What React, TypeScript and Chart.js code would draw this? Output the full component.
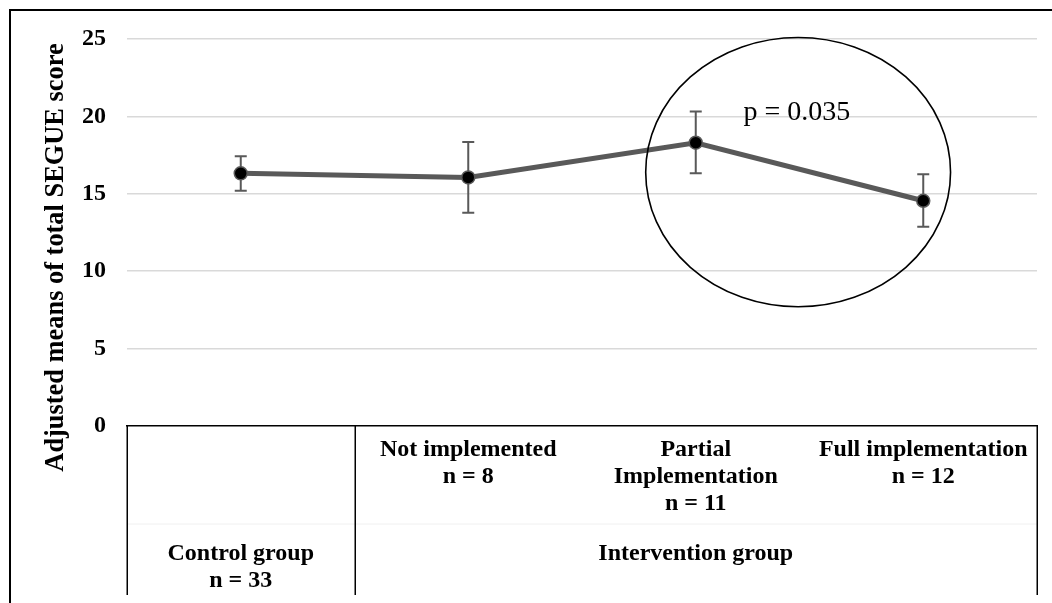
import React, { useEffect, useRef } from "react";
import { Chart, registerables } from "chart.js";

Chart.register(...registerables);

// ---- data ----
const categories = ["Control group", "Not implemented", "Partial Implementation", "Full implementation"];
const tickLabels: string[][] = [
  [""],
  ["Not implemented", "n = 8"],
  ["Partial", "Implementation", "n = 11"],
  ["Full implementation", "n = 12"],
];
const groupNames: string[][] = [["Control group", "n = 33"], ["Intervention group"]];
const groupStart = [0, 1];
const groupEnd = [0, 3];
const means = [16.32, 16.06, 18.3, 14.55];
const errLow = [15.2, 13.77, 16.32, 12.87];
const errHigh = [17.43, 18.35, 20.31, 16.26];
const yMin = 0;
const yMax = 25;
const yStep = 5;
const yTitle = "Adjusted means of total SEGUE score";
const annotationText = "p = 0.035";
const annotationAt = [2.21, 19.77]; // [category index, value] of text start
const ellipseX = [1.78, 3.12]; // category-index extent
const ellipseY = [7.7, 25.1]; // value extent

const SERIF = "'Liberation Serif', 'Times New Roman', serif";
const GRAY = "#595959";

const decorPlugin = {
  id: "decor",
  beforeDraw(chart: any) {
    const { ctx, width, height } = chart;
    ctx.save();
    ctx.fillStyle = "#ffffff";
    ctx.fillRect(0, 0, width, height);
    ctx.restore();
  },
  beforeDatasetsDraw(chart: any) {
    const { ctx } = chart;
    const xs = chart.scales.x;
    const ys = chart.scales.y;
    ctx.save();
    ctx.strokeStyle = GRAY;
    ctx.lineWidth = 2;
    for (let i = 0; i < means.length; i++) {
      const x = xs.getPixelForValue(i);
      const yl = ys.getPixelForValue(errLow[i]);
      const yh = ys.getPixelForValue(errHigh[i]);
      ctx.beginPath();
      ctx.moveTo(x, yl);
      ctx.lineTo(x, yh);
      ctx.moveTo(x - 6, yl);
      ctx.lineTo(x + 6, yl);
      ctx.moveTo(x - 6, yh);
      ctx.lineTo(x + 6, yh);
      ctx.stroke();
    }
    ctx.restore();
  },
  afterDraw(chart: any) {
    const { ctx, chartArea, width, height } = chart;
    const xs = chart.scales.x;
    const ys = chart.scales.y;
    ctx.save();
    // outer frame (top & left)
    ctx.strokeStyle = "#000";
    ctx.lineWidth = 2;
    ctx.beginPath();
    ctx.moveTo(width, 10);
    ctx.lineTo(10, 10);
    ctx.lineTo(10, height);
    ctx.stroke();

    // y-axis title
    ctx.save();
    ctx.translate(62.5, 257.5);
    ctx.rotate(-Math.PI / 2);
    ctx.fillStyle = "#000";
    ctx.font = `bold 26.4px ${SERIF}`;
    ctx.textAlign = "center";
    ctx.textBaseline = "alphabetic";
    ctx.fillText(yTitle, 0, 0);
    ctx.restore();

    // faint row separator in table
    ctx.strokeStyle = "#f0f0f0";
    ctx.lineWidth = 1;
    ctx.beginPath();
    ctx.moveTo(chartArea.left, chartArea.bottom + 98);
    ctx.lineTo(chartArea.right, chartArea.bottom + 98);
    ctx.stroke();

    // group separators
    ctx.strokeStyle = "#000";
    ctx.lineWidth = 1.5;
    const bounds = new Set<number>();
    for (let g = 0; g < groupNames.length; g++) {
      bounds.add(groupStart[g] - 0.5);
      bounds.add(groupEnd[g] + 0.5);
    }
    bounds.forEach((b) => {
      const x = Math.round(xs.getPixelForValue(b)) + 0.25;
      ctx.beginPath();
      ctx.moveTo(x, chartArea.bottom);
      ctx.lineTo(x, chartArea.bottom + 169);
      ctx.stroke();
    });

    // group labels
    ctx.fillStyle = "#000";
    ctx.font = `bold 24px ${SERIF}`;
    ctx.textAlign = "center";
    ctx.textBaseline = "alphabetic";
    for (let g = 0; g < groupNames.length; g++) {
      const cx = (xs.getPixelForValue(groupStart[g] - 0.5) + xs.getPixelForValue(groupEnd[g] + 0.5)) / 2;
      groupNames[g].forEach((line, k) => {
        ctx.fillText(line, cx, chartArea.bottom + 134 + k * 27);
      });
    }

    // ellipse annotation
    const ex0 = xs.getPixelForValue(ellipseX[0]);
    const ex1 = xs.getPixelForValue(ellipseX[1]);
    const ey0 = ys.getPixelForValue(ellipseY[0]);
    const ey1 = ys.getPixelForValue(ellipseY[1]);
    ctx.strokeStyle = "#000";
    ctx.lineWidth = 1.6;
    ctx.beginPath();
    ctx.ellipse((ex0 + ex1) / 2, (ey0 + ey1) / 2, Math.abs(ex1 - ex0) / 2, Math.abs(ey1 - ey0) / 2, 0, 0, Math.PI * 2);
    ctx.stroke();

    // p-value text
    ctx.font = `28px ${SERIF}`;
    ctx.textAlign = "left";
    ctx.textBaseline = "alphabetic";
    ctx.fillText(annotationText, xs.getPixelForValue(annotationAt[0]), ys.getPixelForValue(annotationAt[1]));
    ctx.restore();
  },
};

export default function App() {
  const ref = useRef<HTMLCanvasElement | null>(null);
  useEffect(() => {
    if (!ref.current) return;
    const chart = new Chart(ref.current, {
      type: "line",
      data: {
        labels: tickLabels as any,
        datasets: [
          {
            label: "Adjusted mean",
            data: means,
            borderColor: GRAY,
            borderWidth: 5,
            pointRadius: 6.5,
            pointBackgroundColor: "#000",
            pointBorderColor: GRAY,
            pointBorderWidth: 1.5,
            tension: 0,
            fill: false,
          },
        ],
      },
      options: {
        animation: false,
        responsive: false,
        maintainAspectRatio: false,
        layout: { padding: { top: 39, right: 15, left: 0, bottom: 0 } },
        plugins: {
          legend: { display: false },
          tooltip: { enabled: false },
          title: { display: false },
        },
        scales: {
          x: {
            type: "category",
            offset: true,
            grid: { display: false, drawTicks: false },
            border: { display: true, color: "#000", width: 1.5 },
            ticks: {
              color: "#000",
              font: { family: SERIF, size: 24, weight: "bold", lineHeight: 1.125 },
              padding: 10,
              maxRotation: 0,
              minRotation: 0,
              autoSkip: false,
            },
            afterFit: (scale: any) => {
              scale.height = 177;
            },
          },
          y: {
            min: yMin,
            max: yMax,
            grid: {
              color: (c: any) => (c.tick && c.tick.value === 0 ? "rgba(0,0,0,0)" : "#d9d9d9"),
              lineWidth: 1.5,
              drawTicks: false,
            },
            border: { display: false },
            ticks: {
              stepSize: yStep,
              color: "#000",
              font: { family: SERIF, size: 24, weight: "bold" },
              padding: 21,
            },
            title: { display: false, text: yTitle },
            afterFit: (scale: any) => {
              scale.width = 127;
            },
          },
        },
      },
      plugins: [decorPlugin],
    });
    return () => chart.destroy();
  }, []);
  return (
    <div style={{ position: "absolute", left: 0, top: 0, width: 1052, height: 603 }}>
      <canvas ref={ref} width={1052} height={603} style={{ display: "block" }} />
    </div>
  );
}
